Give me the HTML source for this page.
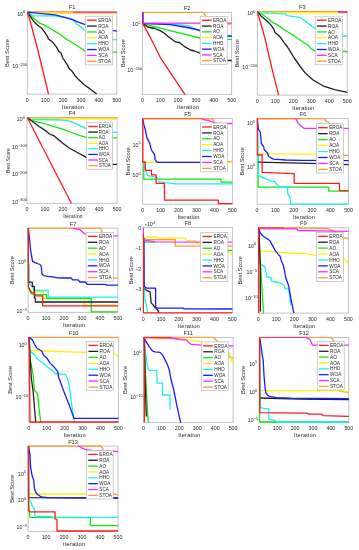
<!DOCTYPE html>
<html><head><meta charset="utf-8"><style>
html,body{margin:0;padding:0;background:#fff;width:359px;height:550px;overflow:hidden}
svg{display:block;will-change:transform}
text{font-family:"Liberation Sans",sans-serif;fill:#262626}
.t{font-size:5.3px}
.s{font-size:4px}
.ti{font-size:5.7px;fill:#262626}
.l{font-size:4.7px}
.lb{font-size:5.75px}
.it{letter-spacing:0.15px}
</style></head><body>
<svg width="359" height="550" viewBox="0 0 359 550" xmlns="http://www.w3.org/2000/svg">
<rect width="359" height="550" fill="#fff"/>
<clipPath id="cF1"><rect x="26.6" y="11.1" width="90.9" height="83.79999999999998"/></clipPath>
<rect x="27.3" y="11.9" width="89.50" height="82.20" fill="none" stroke="#b0b0b0" stroke-width="0.75"/>
<text x="27.30" y="101.60" class="t" text-anchor="middle">0</text>
<text x="45.20" y="101.60" class="t" text-anchor="middle">100</text>
<text x="63.10" y="101.60" class="t" text-anchor="middle">200</text>
<text x="81.00" y="101.60" class="t" text-anchor="middle">300</text>
<text x="98.90" y="101.60" class="t" text-anchor="middle">400</text>
<text x="116.80" y="101.60" class="t" text-anchor="middle">500</text>
<text x="73.15" y="109.00" class="lb it" text-anchor="middle">Iteration</text>
<text transform="translate(8.90,53.00) rotate(-90)" class="lb" text-anchor="middle">Best Score</text>
<text x="72.05" y="9.30" class="ti" text-anchor="middle">F1</text>
<text x="17.15" y="15.50" class="t">10<tspan class="s" dy="-2.2">0</tspan></text>
<text x="12.25" y="68.10" class="t">10<tspan class="s" dy="-2.2">−200</tspan></text>
<g clip-path="url(#cF1)" fill="none" stroke-width="1.3" stroke-linejoin="round" stroke-linecap="butt">
<polyline points="27.40,11.90 116.80,11.90" stroke="#ff9a30"/>
<polyline points="27.40,12.30 44.50,13.00 60.00,13.40 116.80,13.60" stroke="#fff200"/>
<polyline points="27.40,12.10 34.30,18.70 39.60,23.10 44.50,25.10 50.30,28.50 54.20,30.90 60.00,34.30 67.70,40.00 77.40,45.80 85.20,51.20 112.50,52.20 116.80,52.20" stroke="#10e810"/>
<polyline points="27.40,12.10 33.80,15.80 55.00,15.80 69.60,18.30 73.50,20.20 75.50,23.20 79.40,25.60 84.20,30.00 86.00,31.00 112.40,39.70 116.80,39.70" stroke="#18f0f0"/>
<polyline points="27.40,12.10 31.80,18.70 34.70,22.60 38.60,26.00 41.60,28.00 44.50,31.90 47.40,36.30 48.40,38.90 52.30,41.80 56.20,46.70 59.10,51.60 60.80,52.70 62.80,58.00 66.70,63.90 69.40,68.90 71.80,70.80 74.70,75.20 78.60,79.60 84.50,85.00 89.40,88.40 96.70,94.10" stroke="#202020"/>
<polyline points="27.40,12.10 44.50,13.80 55.00,14.90 64.70,17.30 72.50,19.70 78.40,22.20 85.20,24.60 112.20,30.30 116.80,31.10" stroke="#1a1aff"/>
<polyline points="73.00,12.30 116.80,12.30" stroke="#ff28ff"/>
<polyline points="27.40,12.10 31.50,26.00 35.20,40.00 39.30,56.00 45.10,80.00 48.50,94.10" stroke="#ff1a1a"/>
</g>
<rect x="85.3" y="16.2" width="27.40" height="48.70" fill="#fff" stroke="#b0b0b0" stroke-width="0.6"/>
<line x1="87.10" x2="96.70" y1="20.20" y2="20.20" stroke="#ff1a1a" stroke-width="1.3"/>
<text x="98.20" y="21.85" class="l">EROA</text>
<line x1="87.10" x2="96.70" y1="26.07" y2="26.07" stroke="#202020" stroke-width="1.3"/>
<text x="98.20" y="27.72" class="l">ROA</text>
<line x1="87.10" x2="96.70" y1="31.94" y2="31.94" stroke="#10e810" stroke-width="1.3"/>
<text x="98.20" y="33.59" class="l">AO</text>
<line x1="87.10" x2="96.70" y1="37.81" y2="37.81" stroke="#fff200" stroke-width="1.3"/>
<text x="98.20" y="39.46" class="l">AOA</text>
<line x1="87.10" x2="96.70" y1="43.69" y2="43.69" stroke="#18f0f0" stroke-width="1.3"/>
<text x="98.20" y="45.34" class="l">HHO</text>
<line x1="87.10" x2="96.70" y1="49.56" y2="49.56" stroke="#1a1aff" stroke-width="1.3"/>
<text x="98.20" y="51.21" class="l">WOA</text>
<line x1="87.10" x2="96.70" y1="55.43" y2="55.43" stroke="#ff28ff" stroke-width="1.3"/>
<text x="98.20" y="57.08" class="l">SCA</text>
<line x1="87.10" x2="96.70" y1="61.30" y2="61.30" stroke="#ff9a30" stroke-width="1.3"/>
<text x="98.20" y="62.95" class="l">STOA</text>
<clipPath id="cF2"><rect x="141.70000000000002" y="11.5" width="90.69999999999999" height="83.6"/></clipPath>
<rect x="142.4" y="12.3" width="89.30" height="82.00" fill="none" stroke="#b0b0b0" stroke-width="0.75"/>
<text x="142.40" y="101.80" class="t" text-anchor="middle">0</text>
<text x="160.26" y="101.80" class="t" text-anchor="middle">100</text>
<text x="178.12" y="101.80" class="t" text-anchor="middle">200</text>
<text x="195.98" y="101.80" class="t" text-anchor="middle">300</text>
<text x="213.84" y="101.80" class="t" text-anchor="middle">400</text>
<text x="231.70" y="101.80" class="t" text-anchor="middle">500</text>
<text x="188.15" y="109.20" class="lb it" text-anchor="middle">Iteration</text>
<text transform="translate(124.60,53.30) rotate(-90)" class="lb" text-anchor="middle">Best Score</text>
<text x="187.05" y="9.70" class="ti" text-anchor="middle">F2</text>
<text x="132.25" y="26.10" class="t">10<tspan class="s" dy="-2.2">0</tspan></text>
<text x="127.35" y="71.80" class="t">10<tspan class="s" dy="-2.2">−200</tspan></text>
<g clip-path="url(#cF2)" fill="none" stroke-width="1.3" stroke-linejoin="round" stroke-linecap="butt">
<polyline points="142.60,12.30 203.40,12.30 205.40,15.80 210.00,20.00 227.30,24.10 231.70,24.10" stroke="#ff9a30"/>
<polyline points="142.80,23.60 231.70,23.90" stroke="#fff200"/>
<polyline points="142.80,23.60 170.00,30.60 200.20,38.00 227.30,39.40 231.70,39.40" stroke="#10e810"/>
<polyline points="142.80,23.40 170.00,24.30 184.60,25.10 190.00,26.50 200.20,31.40 227.30,36.30 231.70,36.30" stroke="#18f0f0"/>
<polyline points="142.80,23.60 147.80,27.00 154.60,28.50 159.50,30.40 164.40,33.30 169.20,37.20 173.90,40.70 176.30,42.20 179.30,42.50 184.60,46.60 190.50,50.00 194.40,51.00 200.20,53.10 227.30,60.50 231.70,60.50" stroke="#202020"/>
<polyline points="142.70,12.30 142.80,23.40 170.00,24.60 184.60,27.00 194.40,29.00 200.20,30.40 227.30,36.00 231.70,36.00" stroke="#1a1aff"/>
<polyline points="142.70,12.30 142.80,23.10 231.70,23.10" stroke="#ff28ff"/>
<polyline points="142.70,12.30 142.80,23.60 147.20,31.60 151.60,40.00 160.20,57.30 172.70,76.10 184.90,94.30" stroke="#ff1a1a"/>
<polyline points="142.70,12.30 142.80,22.00" stroke="#6a2cff"/>
</g>
<rect x="200.2" y="16.3" width="27.00" height="48.00" fill="#fff" stroke="#b0b0b0" stroke-width="0.6"/>
<line x1="202.00" x2="211.60" y1="20.30" y2="20.30" stroke="#ff1a1a" stroke-width="1.3"/>
<text x="213.10" y="21.95" class="l">EROA</text>
<line x1="202.00" x2="211.60" y1="26.07" y2="26.07" stroke="#202020" stroke-width="1.3"/>
<text x="213.10" y="27.72" class="l">ROA</text>
<line x1="202.00" x2="211.60" y1="31.84" y2="31.84" stroke="#10e810" stroke-width="1.3"/>
<text x="213.10" y="33.49" class="l">AO</text>
<line x1="202.00" x2="211.60" y1="37.61" y2="37.61" stroke="#fff200" stroke-width="1.3"/>
<text x="213.10" y="39.26" class="l">AOA</text>
<line x1="202.00" x2="211.60" y1="43.39" y2="43.39" stroke="#18f0f0" stroke-width="1.3"/>
<text x="213.10" y="45.04" class="l">HHO</text>
<line x1="202.00" x2="211.60" y1="49.16" y2="49.16" stroke="#1a1aff" stroke-width="1.3"/>
<text x="213.10" y="50.81" class="l">WOA</text>
<line x1="202.00" x2="211.60" y1="54.93" y2="54.93" stroke="#ff28ff" stroke-width="1.3"/>
<text x="213.10" y="56.58" class="l">SCA</text>
<line x1="202.00" x2="211.60" y1="60.70" y2="60.70" stroke="#ff9a30" stroke-width="1.3"/>
<text x="213.10" y="62.35" class="l">STOA</text>
<clipPath id="cF3"><rect x="256.6" y="10.899999999999999" width="91.29999999999998" height="84.99999999999999"/></clipPath>
<rect x="257.3" y="11.7" width="89.90" height="83.40" fill="none" stroke="#b0b0b0" stroke-width="0.75"/>
<text x="257.30" y="102.60" class="t" text-anchor="middle">0</text>
<text x="275.28" y="102.60" class="t" text-anchor="middle">100</text>
<text x="293.26" y="102.60" class="t" text-anchor="middle">200</text>
<text x="311.24" y="102.60" class="t" text-anchor="middle">300</text>
<text x="329.22" y="102.60" class="t" text-anchor="middle">400</text>
<text x="347.20" y="102.60" class="t" text-anchor="middle">500</text>
<text x="303.35" y="110.00" class="lb it" text-anchor="middle">Iteration</text>
<text transform="translate(239.00,53.40) rotate(-90)" class="lb" text-anchor="middle">Best Score</text>
<text x="302.25" y="9.10" class="ti" text-anchor="middle">F3</text>
<text x="247.15" y="15.40" class="t">10<tspan class="s" dy="-2.2">0</tspan></text>
<text x="242.25" y="68.80" class="t">10<tspan class="s" dy="-2.2">−200</tspan></text>
<g clip-path="url(#cF3)" fill="none" stroke-width="1.3" stroke-linejoin="round" stroke-linecap="butt">
<polyline points="257.40,11.70 347.20,11.70" stroke="#ff9a30"/>
<polyline points="257.40,12.40 290.00,12.95 347.20,13.10" stroke="#fff200"/>
<polyline points="257.40,11.70 262.80,14.80 269.60,19.70 272.50,22.60 276.40,24.10 283.30,29.00 289.90,33.30 293.80,35.30 296.70,37.70 302.50,41.80 308.40,45.30 309.90,47.70 314.20,50.60 320.00,51.50 347.20,51.50" stroke="#10e810"/>
<polyline points="257.40,11.70 260.80,12.90 285.20,13.80 287.20,15.60 299.60,17.30 302.50,19.20 308.40,23.60 314.20,28.00 318.00,31.00 342.60,36.00 347.20,36.00" stroke="#18f0f0"/>
<polyline points="257.40,11.70 261.80,16.80 266.70,20.70 270.60,24.60 273.50,28.50 275.00,32.40 278.40,35.30 280.30,37.20 284.20,42.80 287.50,47.00 290.80,52.40 294.20,58.00 299.50,65.50 305.30,73.10 313.10,80.00 322.90,85.80 334.60,89.70 346.30,92.20 347.20,92.30" stroke="#202020"/>
<polyline points="338.00,11.90 347.20,11.90" stroke="#1a1aff"/>
<polyline points="340.00,12.00 347.20,12.00" stroke="#ff28ff"/>
<polyline points="257.40,11.70 264.70,37.20 271.10,65.20 278.60,95.10" stroke="#ff1a1a"/>
</g>
<rect x="315.2" y="16.2" width="27.30" height="48.60" fill="#fff" stroke="#b0b0b0" stroke-width="0.6"/>
<line x1="317.00" x2="326.60" y1="20.20" y2="20.20" stroke="#ff1a1a" stroke-width="1.3"/>
<text x="328.10" y="21.85" class="l">EROA</text>
<line x1="317.00" x2="326.60" y1="26.06" y2="26.06" stroke="#202020" stroke-width="1.3"/>
<text x="328.10" y="27.71" class="l">ROA</text>
<line x1="317.00" x2="326.60" y1="31.91" y2="31.91" stroke="#10e810" stroke-width="1.3"/>
<text x="328.10" y="33.56" class="l">AO</text>
<line x1="317.00" x2="326.60" y1="37.77" y2="37.77" stroke="#fff200" stroke-width="1.3"/>
<text x="328.10" y="39.42" class="l">AOA</text>
<line x1="317.00" x2="326.60" y1="43.63" y2="43.63" stroke="#18f0f0" stroke-width="1.3"/>
<text x="328.10" y="45.28" class="l">HHO</text>
<line x1="317.00" x2="326.60" y1="49.49" y2="49.49" stroke="#1a1aff" stroke-width="1.3"/>
<text x="328.10" y="51.14" class="l">WOA</text>
<line x1="317.00" x2="326.60" y1="55.34" y2="55.34" stroke="#ff28ff" stroke-width="1.3"/>
<text x="328.10" y="56.99" class="l">SCA</text>
<line x1="317.00" x2="326.60" y1="61.20" y2="61.20" stroke="#ff9a30" stroke-width="1.3"/>
<text x="328.10" y="62.85" class="l">STOA</text>
<clipPath id="cF4"><rect x="26.3" y="117.0" width="91.5" height="87.10000000000001"/></clipPath>
<rect x="27.0" y="117.8" width="90.10" height="85.50" fill="none" stroke="#b0b0b0" stroke-width="0.75"/>
<text x="27.00" y="210.80" class="t" text-anchor="middle">0</text>
<text x="45.02" y="210.80" class="t" text-anchor="middle">100</text>
<text x="63.04" y="210.80" class="t" text-anchor="middle">200</text>
<text x="81.06" y="210.80" class="t" text-anchor="middle">300</text>
<text x="99.08" y="210.80" class="t" text-anchor="middle">400</text>
<text x="117.10" y="210.80" class="t" text-anchor="middle">500</text>
<text x="73.02" y="217.84" class="lb it" text-anchor="middle" style="font-size:5.06px">Iteration</text>
<text transform="translate(9.70,160.55) rotate(-90)" class="lb" text-anchor="middle" style="font-size:5.06px">Best Score</text>
<text x="72.05" y="115.20" class="ti" text-anchor="middle">F4</text>
<text x="16.85" y="121.10" class="t">10<tspan class="s" dy="-2.2">0</tspan></text>
<text x="11.95" y="149.20" class="t">10<tspan class="s" dy="-2.2">−100</tspan></text>
<text x="11.95" y="176.20" class="t">10<tspan class="s" dy="-2.2">−200</tspan></text>
<text x="11.95" y="203.60" class="t">10<tspan class="s" dy="-2.2">−300</tspan></text>
<g clip-path="url(#cF4)" fill="none" stroke-width="1.3" stroke-linejoin="round" stroke-linecap="butt">
<polyline points="27.40,117.80 117.10,117.80" stroke="#ff9a30"/>
<polyline points="27.40,118.90 117.10,119.10" stroke="#fff200"/>
<polyline points="27.40,117.80 34.70,121.30 44.50,123.70 52.30,126.20 60.00,128.30 62.80,129.10 71.60,132.50 79.40,135.40 86.20,137.40 112.50,137.80 117.10,137.80" stroke="#10e810"/>
<polyline points="27.40,117.80 30.80,119.40 60.00,120.00 66.70,120.30 72.50,122.30 79.40,125.20 86.20,128.60 112.50,132.40 117.10,132.40" stroke="#18f0f0"/>
<polyline points="27.40,117.80 32.80,121.80 39.60,126.70 45.50,130.60 49.40,134.00 54.20,135.90 58.10,139.30 62.80,143.30 69.60,148.20 77.40,152.50 86.20,157.40 112.50,164.30 117.10,164.30" stroke="#202020"/>
<polyline points="27.40,117.80 71.30,203.30" stroke="#ff1a1a"/>
</g>
<rect x="86.5" y="122.5" width="26.00" height="46.70" fill="#fff" stroke="#b0b0b0" stroke-width="0.6"/>
<line x1="88.30" x2="97.90" y1="126.50" y2="126.50" stroke="#ff1a1a" stroke-width="1.3"/>
<text x="98.75" y="128.07" class="l" style="font-size:4.46px">EROA</text>
<line x1="88.30" x2="97.90" y1="132.09" y2="132.09" stroke="#202020" stroke-width="1.3"/>
<text x="98.75" y="133.65" class="l" style="font-size:4.46px">ROA</text>
<line x1="88.30" x2="97.90" y1="137.67" y2="137.67" stroke="#10e810" stroke-width="1.3"/>
<text x="98.75" y="139.24" class="l" style="font-size:4.46px">AO</text>
<line x1="88.30" x2="97.90" y1="143.26" y2="143.26" stroke="#fff200" stroke-width="1.3"/>
<text x="98.75" y="144.82" class="l" style="font-size:4.46px">AOA</text>
<line x1="88.30" x2="97.90" y1="148.84" y2="148.84" stroke="#18f0f0" stroke-width="1.3"/>
<text x="98.75" y="150.41" class="l" style="font-size:4.46px">HHO</text>
<line x1="88.30" x2="97.90" y1="154.43" y2="154.43" stroke="#1a1aff" stroke-width="1.3"/>
<text x="98.75" y="156.00" class="l" style="font-size:4.46px">WOA</text>
<line x1="88.30" x2="97.90" y1="160.01" y2="160.01" stroke="#ff28ff" stroke-width="1.3"/>
<text x="98.75" y="161.58" class="l" style="font-size:4.46px">SCA</text>
<line x1="88.30" x2="97.90" y1="165.60" y2="165.60" stroke="#ff9a30" stroke-width="1.3"/>
<text x="98.75" y="167.17" class="l" style="font-size:4.46px">STOA</text>
<clipPath id="cF5"><rect x="142.0" y="117.7" width="91.00000000000003" height="87.29999999999998"/></clipPath>
<rect x="142.7" y="118.5" width="89.60" height="85.70" fill="none" stroke="#b0b0b0" stroke-width="0.75"/>
<text x="142.70" y="211.70" class="t" text-anchor="middle">0</text>
<text x="160.62" y="211.70" class="t" text-anchor="middle">100</text>
<text x="178.54" y="211.70" class="t" text-anchor="middle">200</text>
<text x="196.46" y="211.70" class="t" text-anchor="middle">300</text>
<text x="214.38" y="211.70" class="t" text-anchor="middle">400</text>
<text x="232.30" y="211.70" class="t" text-anchor="middle">500</text>
<text x="188.60" y="219.10" class="lb it" text-anchor="middle">Iteration</text>
<text transform="translate(130.00,161.35) rotate(-90)" class="lb" text-anchor="middle">Best Score</text>
<text x="187.50" y="115.90" class="ti" text-anchor="middle">F5</text>
<text x="132.55" y="146.60" class="t">10<tspan class="s" dy="-2.2">5</tspan></text>
<text x="132.55" y="177.20" class="t">10<tspan class="s" dy="-2.2">0</tspan></text>
<g clip-path="url(#cF5)" fill="none" stroke-width="1.3" stroke-linejoin="round" stroke-linecap="butt">
<polyline points="142.80,118.50 211.80,118.50 214.90,122.40 218.00,140.00 222.00,160.00 227.60,161.90 232.30,161.90" stroke="#ff9a30"/>
<polyline points="142.80,162.30 232.30,162.30" stroke="#fff200"/>
<polyline points="143.80,162.00 143.80,179.20 221.00,179.20 221.00,182.20 232.30,182.20" stroke="#10e810"/>
<polyline points="143.50,162.00 146.10,171.80 147.70,175.70 156.80,177.20 159.10,181.80 172.20,183.30 175.20,183.90 232.30,183.90" stroke="#18f0f0"/>
<polyline points="142.80,118.50 143.90,124.70 145.80,131.60 146.80,137.40 149.70,143.30 151.20,149.50 152.70,151.80 154.60,154.70 155.10,159.60 157.10,162.30 227.60,162.40" stroke="#1a1aff"/>
<polyline points="201.80,118.50 203.40,119.70 208.00,120.40 212.60,122.00 216.00,123.50 232.30,123.50" stroke="#ff28ff"/>
<polyline points="142.80,118.50 142.80,162.00 145.40,162.00 145.40,170.30 151.50,170.30 151.50,174.90 156.10,174.90 156.10,183.30 164.50,183.30 164.50,200.20 218.40,200.20 218.40,203.60 232.30,203.60" stroke="#ff1a1a"/>
<polyline points="142.80,118.50 202.10,118.50" stroke="#ff6a2c"/>
</g>
<rect x="200.3" y="123.0" width="27.30" height="48.90" fill="#fff" stroke="#b0b0b0" stroke-width="0.6"/>
<line x1="202.10" x2="211.70" y1="127.00" y2="127.00" stroke="#ff1a1a" stroke-width="1.3"/>
<text x="213.20" y="128.65" class="l">EROA</text>
<line x1="202.10" x2="211.70" y1="132.90" y2="132.90" stroke="#202020" stroke-width="1.3"/>
<text x="213.20" y="134.55" class="l">ROA</text>
<line x1="202.10" x2="211.70" y1="138.80" y2="138.80" stroke="#10e810" stroke-width="1.3"/>
<text x="213.20" y="140.45" class="l">AO</text>
<line x1="202.10" x2="211.70" y1="144.70" y2="144.70" stroke="#fff200" stroke-width="1.3"/>
<text x="213.20" y="146.35" class="l">AOA</text>
<line x1="202.10" x2="211.70" y1="150.60" y2="150.60" stroke="#18f0f0" stroke-width="1.3"/>
<text x="213.20" y="152.25" class="l">HHO</text>
<line x1="202.10" x2="211.70" y1="156.50" y2="156.50" stroke="#1a1aff" stroke-width="1.3"/>
<text x="213.20" y="158.15" class="l">WOA</text>
<line x1="202.10" x2="211.70" y1="162.40" y2="162.40" stroke="#ff28ff" stroke-width="1.3"/>
<text x="213.20" y="164.05" class="l">SCA</text>
<line x1="202.10" x2="211.70" y1="168.30" y2="168.30" stroke="#ff9a30" stroke-width="1.3"/>
<text x="213.20" y="169.95" class="l">STOA</text>
<clipPath id="cF6"><rect x="256.40000000000003" y="117.8" width="92.9" height="87.19999999999999"/></clipPath>
<rect x="257.1" y="118.6" width="91.50" height="85.60" fill="none" stroke="#b0b0b0" stroke-width="0.75"/>
<text x="257.10" y="211.70" class="t" text-anchor="middle">0</text>
<text x="275.40" y="211.70" class="t" text-anchor="middle">100</text>
<text x="293.70" y="211.70" class="t" text-anchor="middle">200</text>
<text x="312.00" y="211.70" class="t" text-anchor="middle">300</text>
<text x="330.30" y="211.70" class="t" text-anchor="middle">400</text>
<text x="348.60" y="211.70" class="t" text-anchor="middle">500</text>
<text x="303.95" y="219.10" class="lb it" text-anchor="middle">Iteration</text>
<text transform="translate(243.60,161.40) rotate(-90)" class="lb" text-anchor="middle">Best Score</text>
<text x="302.85" y="116.00" class="ti" text-anchor="middle">F6</text>
<text x="246.95" y="125.30" class="t">10<tspan class="s" dy="-2.2">5</tspan></text>
<text x="246.95" y="168.60" class="t">10<tspan class="s" dy="-2.2">0</tspan></text>
<g clip-path="url(#cF6)" fill="none" stroke-width="1.3" stroke-linejoin="round" stroke-linecap="butt">
<polyline points="257.30,118.60 324.30,118.60 325.90,121.20 328.40,122.00 335.00,140.00 343.60,155.40 348.60,155.40" stroke="#ff9a30"/>
<polyline points="257.30,153.90 316.30,154.20" stroke="#fff200"/>
<polyline points="258.10,155.00 258.10,187.10 328.80,187.10 328.80,191.20 348.60,191.20" stroke="#10e810"/>
<polyline points="257.80,131.60 258.60,175.60 262.20,177.40 268.60,180.10 274.90,181.90 277.60,185.60 279.50,187.00 287.60,187.00 287.60,193.70 290.30,198.20 290.50,204.20 348.60,204.20" stroke="#18f0f0"/>
<polyline points="258.20,162.20 310.00,163.40 348.60,164.60" stroke="#202020"/>
<polyline points="257.30,118.60 258.40,129.10 260.40,132.50 261.30,143.30 263.80,147.20 264.20,149.60 267.30,152.70 268.80,156.50 273.40,159.10 285.60,160.00 300.90,160.30 348.60,160.60" stroke="#1a1aff"/>
<polyline points="295.80,118.60 298.30,123.70 302.50,127.00 304.20,128.40 348.60,128.40" stroke="#ff28ff"/>
<polyline points="257.30,118.60 257.30,155.00 262.10,155.00 262.10,172.30 294.20,173.60 294.20,183.30 339.50,183.30 339.50,190.60 348.60,190.60" stroke="#ff1a1a"/>
<polyline points="257.30,118.60 296.00,118.60" stroke="#ff7a38"/>
</g>
<rect x="316.3" y="123.7" width="27.30" height="49.30" fill="#fff" stroke="#b0b0b0" stroke-width="0.6"/>
<line x1="318.10" x2="327.70" y1="127.70" y2="127.70" stroke="#ff1a1a" stroke-width="1.3"/>
<text x="329.20" y="129.35" class="l">EROA</text>
<line x1="318.10" x2="327.70" y1="133.66" y2="133.66" stroke="#202020" stroke-width="1.3"/>
<text x="329.20" y="135.31" class="l">ROA</text>
<line x1="318.10" x2="327.70" y1="139.61" y2="139.61" stroke="#10e810" stroke-width="1.3"/>
<text x="329.20" y="141.26" class="l">AO</text>
<line x1="318.10" x2="327.70" y1="145.57" y2="145.57" stroke="#fff200" stroke-width="1.3"/>
<text x="329.20" y="147.22" class="l">AOA</text>
<line x1="318.10" x2="327.70" y1="151.53" y2="151.53" stroke="#18f0f0" stroke-width="1.3"/>
<text x="329.20" y="153.18" class="l">HHO</text>
<line x1="318.10" x2="327.70" y1="157.49" y2="157.49" stroke="#1a1aff" stroke-width="1.3"/>
<text x="329.20" y="159.14" class="l">WOA</text>
<line x1="318.10" x2="327.70" y1="163.44" y2="163.44" stroke="#ff28ff" stroke-width="1.3"/>
<text x="329.20" y="165.09" class="l">SCA</text>
<line x1="318.10" x2="327.70" y1="169.40" y2="169.40" stroke="#ff9a30" stroke-width="1.3"/>
<text x="329.20" y="171.05" class="l">STOA</text>
<clipPath id="cF7"><rect x="27.400000000000002" y="227.29999999999998" width="91.20000000000002" height="85.80000000000001"/></clipPath>
<rect x="28.1" y="228.1" width="89.80" height="84.20" fill="none" stroke="#b0b0b0" stroke-width="0.75"/>
<text x="28.10" y="319.80" class="t" text-anchor="middle">0</text>
<text x="46.06" y="319.80" class="t" text-anchor="middle">100</text>
<text x="64.02" y="319.80" class="t" text-anchor="middle">200</text>
<text x="81.98" y="319.80" class="t" text-anchor="middle">300</text>
<text x="99.94" y="319.80" class="t" text-anchor="middle">400</text>
<text x="117.90" y="319.80" class="t" text-anchor="middle">500</text>
<text x="74.10" y="327.20" class="lb it" text-anchor="middle">Iteration</text>
<text transform="translate(14.30,270.20) rotate(-90)" class="lb" text-anchor="middle">Best Score</text>
<text x="73.00" y="225.50" class="ti" text-anchor="middle">F7</text>
<text x="17.95" y="263.70" class="t">10<tspan class="s" dy="-2.2">0</tspan></text>
<text x="16.50" y="312.70" class="t">10<tspan class="s" dy="-2.2">−5</tspan></text>
<g clip-path="url(#cF7)" fill="none" stroke-width="1.3" stroke-linejoin="round" stroke-linecap="butt">
<polyline points="28.30,228.10 100.20,228.10 101.80,231.20 105.00,250.00 110.00,276.00 113.30,278.20 117.90,278.20" stroke="#ff9a30"/>
<polyline points="28.30,228.10 28.30,287.00 28.80,289.10 30.20,291.20 33.00,291.90 43.40,291.90 43.40,298.50 84.40,298.50 84.40,305.30 117.90,305.30" stroke="#fff200"/>
<polyline points="28.30,228.10 28.30,287.50 29.80,290.50 31.60,294.00 34.70,294.70 46.50,294.70 46.50,298.30 91.30,298.30 91.30,311.80 117.90,311.80" stroke="#10e810"/>
<polyline points="28.30,228.10 28.40,262.00 29.30,266.00 29.30,282.90 30.20,285.00 31.60,286.40 33.00,287.70 33.70,290.50 48.20,290.50 48.20,297.10 117.90,297.10" stroke="#18f0f0"/>
<polyline points="28.30,228.10 28.40,280.50 29.10,282.20 32.30,282.20 32.30,286.40 34.40,286.40 34.40,297.50 35.40,298.90 35.40,302.00 117.90,302.00" stroke="#202020"/>
<polyline points="28.30,228.10 29.40,237.50 30.60,250.00 32.50,261.30 35.00,262.60 40.00,264.50 41.30,266.40 41.90,273.80 43.80,275.60 47.60,276.30 52.60,276.90 57.60,277.90 62.60,278.00 70.90,278.00 72.70,279.80 78.10,279.80 79.90,282.00 85.40,282.00 87.20,284.30 105.30,284.30 107.10,285.20 117.90,285.20" stroke="#1a1aff"/>
<polyline points="73.40,228.10 75.00,228.90 80.30,229.70 82.60,232.00 84.90,234.00 90.00,235.80 117.90,235.80" stroke="#ff28ff"/>
<polyline points="28.30,228.10 28.40,286.40 30.20,290.50 31.60,292.30 34.40,293.00 35.10,295.80 42.70,295.80 42.70,305.90 117.90,305.90" stroke="#ff1a1a"/>
</g>
<rect x="86.0" y="232.4" width="27.30" height="48.80" fill="#fff" stroke="#b0b0b0" stroke-width="0.6"/>
<line x1="87.80" x2="97.40" y1="236.40" y2="236.40" stroke="#ff1a1a" stroke-width="1.3"/>
<text x="98.90" y="238.05" class="l">EROA</text>
<line x1="87.80" x2="97.40" y1="242.29" y2="242.29" stroke="#202020" stroke-width="1.3"/>
<text x="98.90" y="243.94" class="l">ROA</text>
<line x1="87.80" x2="97.40" y1="248.17" y2="248.17" stroke="#10e810" stroke-width="1.3"/>
<text x="98.90" y="249.82" class="l">AO</text>
<line x1="87.80" x2="97.40" y1="254.06" y2="254.06" stroke="#fff200" stroke-width="1.3"/>
<text x="98.90" y="255.71" class="l">AOA</text>
<line x1="87.80" x2="97.40" y1="259.94" y2="259.94" stroke="#18f0f0" stroke-width="1.3"/>
<text x="98.90" y="261.59" class="l">HHO</text>
<line x1="87.80" x2="97.40" y1="265.83" y2="265.83" stroke="#1a1aff" stroke-width="1.3"/>
<text x="98.90" y="267.48" class="l">WOA</text>
<line x1="87.80" x2="97.40" y1="271.71" y2="271.71" stroke="#ff28ff" stroke-width="1.3"/>
<text x="98.90" y="273.36" class="l">SCA</text>
<line x1="87.80" x2="97.40" y1="277.60" y2="277.60" stroke="#ff9a30" stroke-width="1.3"/>
<text x="98.90" y="279.25" class="l">STOA</text>
<clipPath id="cF8"><rect x="142.60000000000002" y="226.7" width="90.4" height="87.1"/></clipPath>
<rect x="143.3" y="227.5" width="89.00" height="85.50" fill="none" stroke="#b0b0b0" stroke-width="0.75"/>
<text x="143.30" y="320.50" class="t" text-anchor="middle">0</text>
<text x="161.10" y="320.50" class="t" text-anchor="middle">100</text>
<text x="178.90" y="320.50" class="t" text-anchor="middle">200</text>
<text x="196.70" y="320.50" class="t" text-anchor="middle">300</text>
<text x="214.50" y="320.50" class="t" text-anchor="middle">400</text>
<text x="232.30" y="320.50" class="t" text-anchor="middle">500</text>
<text x="188.90" y="327.90" class="lb it" text-anchor="middle">Iteration</text>
<text transform="translate(133.40,270.25) rotate(-90)" class="lb" text-anchor="middle">Best Score</text>
<text x="187.80" y="224.90" class="ti" text-anchor="middle">F8</text>
<text x="141.20" y="230.10" class="t" text-anchor="end">0</text>
<text x="141.20" y="250.30" class="t" text-anchor="end">−1</text>
<text x="141.20" y="270.70" class="t" text-anchor="end">−2</text>
<text x="141.20" y="291.00" class="t" text-anchor="end">−3</text>
<text x="141.20" y="311.40" class="t" text-anchor="end">−4</text>
<text x="144.40" y="225.70" class="t"><tspan style="font-size:4.3px">×</tspan>10<tspan class="s" dy="-2.1">4</tspan></text>
<g clip-path="url(#cF8)" fill="none" stroke-width="1.3" stroke-linejoin="round" stroke-linecap="butt">
<polyline points="143.50,238.60 145.60,239.60 175.20,239.60 175.20,246.20 232.30,246.10" stroke="#ff9a30"/>
<polyline points="143.50,236.80 156.40,236.80 158.10,238.10 185.40,238.10 186.90,240.70 195.30,240.70 196.80,243.40 210.00,246.00 228.10,251.50 232.30,254.80" stroke="#fff200"/>
<polyline points="143.50,242.10 155.00,242.10" stroke="#10e810"/>
<polyline points="205.00,250.40 232.30,250.40" stroke="#10e810"/>
<polyline points="143.90,285.60 145.00,299.50 146.70,307.30 147.60,312.30" stroke="#18f0f0"/>
<polyline points="144.50,288.40 146.70,290.60 150.00,291.70 150.60,297.30 151.10,302.90 152.80,304.50 154.50,306.80 156.70,309.00 158.40,310.70 158.70,312.90" stroke="#202020"/>
<polyline points="144.00,238.00 144.20,284.50 144.50,286.70 146.70,288.10 155.60,288.10 155.60,307.30 157.80,308.20 183.50,308.20 184.20,308.90 232.30,309.00" stroke="#1a1aff"/>
<polyline points="143.30,227.50 143.30,234.70 143.60,240.00 155.00,241.90 232.30,242.10" stroke="#ff28ff"/>
<polyline points="143.30,234.00 143.30,312.90 232.30,312.90" stroke="#ff1a1a"/>
</g>
<rect x="200.7" y="232.5" width="27.20" height="48.80" fill="#fff" stroke="#b0b0b0" stroke-width="0.6"/>
<line x1="202.50" x2="212.10" y1="236.50" y2="236.50" stroke="#ff1a1a" stroke-width="1.3"/>
<text x="213.60" y="238.15" class="l">EROA</text>
<line x1="202.50" x2="212.10" y1="242.39" y2="242.39" stroke="#202020" stroke-width="1.3"/>
<text x="213.60" y="244.04" class="l">ROA</text>
<line x1="202.50" x2="212.10" y1="248.27" y2="248.27" stroke="#10e810" stroke-width="1.3"/>
<text x="213.60" y="249.92" class="l">AO</text>
<line x1="202.50" x2="212.10" y1="254.16" y2="254.16" stroke="#fff200" stroke-width="1.3"/>
<text x="213.60" y="255.81" class="l">AOA</text>
<line x1="202.50" x2="212.10" y1="260.04" y2="260.04" stroke="#18f0f0" stroke-width="1.3"/>
<text x="213.60" y="261.69" class="l">HHO</text>
<line x1="202.50" x2="212.10" y1="265.93" y2="265.93" stroke="#1a1aff" stroke-width="1.3"/>
<text x="213.60" y="267.58" class="l">WOA</text>
<line x1="202.50" x2="212.10" y1="271.81" y2="271.81" stroke="#ff28ff" stroke-width="1.3"/>
<text x="213.60" y="273.46" class="l">SCA</text>
<line x1="202.50" x2="212.10" y1="277.70" y2="277.70" stroke="#ff9a30" stroke-width="1.3"/>
<text x="213.60" y="279.35" class="l">STOA</text>
<clipPath id="cF9"><rect x="257.5" y="227.0" width="91.6" height="86.9"/></clipPath>
<rect x="258.2" y="227.8" width="90.20" height="85.30" fill="none" stroke="#b0b0b0" stroke-width="0.75"/>
<text x="258.20" y="320.60" class="t" text-anchor="middle">0</text>
<text x="276.24" y="320.60" class="t" text-anchor="middle">100</text>
<text x="294.28" y="320.60" class="t" text-anchor="middle">200</text>
<text x="312.32" y="320.60" class="t" text-anchor="middle">300</text>
<text x="330.36" y="320.60" class="t" text-anchor="middle">400</text>
<text x="348.40" y="320.60" class="t" text-anchor="middle">500</text>
<text x="304.40" y="328.00" class="lb it" text-anchor="middle">Iteration</text>
<text transform="translate(242.10,270.45) rotate(-90)" class="lb" text-anchor="middle">Best Score</text>
<text x="303.30" y="225.20" class="ti" text-anchor="middle">F9</text>
<text x="248.05" y="247.50" class="t">10<tspan class="s" dy="-2.2">0</tspan></text>
<text x="246.60" y="273.70" class="t">10<tspan class="s" dy="-2.2">−5</tspan></text>
<text x="244.95" y="300.30" class="t">10<tspan class="s" dy="-2.2">−10</tspan></text>
<g clip-path="url(#cF9)" fill="none" stroke-width="1.3" stroke-linejoin="round" stroke-linecap="butt">
<polyline points="258.60,227.80 295.00,227.80 326.70,228.30 333.10,230.70 342.60,237.10 347.40,238.70 348.40,238.90" stroke="#ff9a30"/>
<polyline points="258.60,250.90 280.10,252.30 300.00,253.60 307.70,253.70 315.60,255.30 343.90,258.60 348.40,264.00" stroke="#fff200"/>
<polyline points="258.60,227.80 260.60,265.00 263.50,313.20" stroke="#10e810"/>
<polyline points="258.90,227.80 259.60,245.00 259.80,263.80 262.50,265.10 265.00,266.90 266.90,276.90 270.70,277.50 271.90,281.30 278.80,282.50 281.90,283.80 284.40,285.70 285.10,288.80 288.80,288.80 290.70,305.10" stroke="#18f0f0"/>
<polyline points="258.60,227.80 260.30,265.00 260.40,311.40" stroke="#202020"/>
<polyline points="258.60,227.80 260.00,232.50 262.50,235.70 266.30,238.20 270.00,240.70 271.90,244.40 275.00,250.10 278.20,254.40 280.10,256.30 281.30,260.70 283.20,265.10 284.40,270.00 285.70,277.50 288.80,286.30 290.70,297.60 293.80,313.20" stroke="#1a1aff"/>
<polyline points="258.60,228.50 296.70,228.80 298.00,230.50 333.10,231.20 348.40,231.40" stroke="#ff28ff"/>
<polyline points="258.60,227.80 258.80,313.10" stroke="#ff1a1a"/>
<polyline points="258.60,227.80 284.00,227.80" stroke="#ff4a30"/>
</g>
<rect x="316.4" y="232.3" width="27.00" height="49.00" fill="#fff" stroke="#b0b0b0" stroke-width="0.6"/>
<line x1="318.20" x2="327.80" y1="236.30" y2="236.30" stroke="#ff1a1a" stroke-width="1.3"/>
<text x="329.30" y="237.95" class="l">EROA</text>
<line x1="318.20" x2="327.80" y1="242.21" y2="242.21" stroke="#202020" stroke-width="1.3"/>
<text x="329.30" y="243.86" class="l">ROA</text>
<line x1="318.20" x2="327.80" y1="248.13" y2="248.13" stroke="#10e810" stroke-width="1.3"/>
<text x="329.30" y="249.78" class="l">AO</text>
<line x1="318.20" x2="327.80" y1="254.04" y2="254.04" stroke="#fff200" stroke-width="1.3"/>
<text x="329.30" y="255.69" class="l">AOA</text>
<line x1="318.20" x2="327.80" y1="259.96" y2="259.96" stroke="#18f0f0" stroke-width="1.3"/>
<text x="329.30" y="261.61" class="l">HHO</text>
<line x1="318.20" x2="327.80" y1="265.87" y2="265.87" stroke="#1a1aff" stroke-width="1.3"/>
<text x="329.30" y="267.52" class="l">WOA</text>
<line x1="318.20" x2="327.80" y1="271.79" y2="271.79" stroke="#ff28ff" stroke-width="1.3"/>
<text x="329.30" y="273.44" class="l">SCA</text>
<line x1="318.20" x2="327.80" y1="277.70" y2="277.70" stroke="#ff9a30" stroke-width="1.3"/>
<text x="329.30" y="279.35" class="l">STOA</text>
<clipPath id="cF10"><rect x="28.1" y="336.5" width="91.00000000000001" height="86.49999999999997"/></clipPath>
<rect x="28.8" y="337.3" width="89.60" height="84.90" fill="none" stroke="#b0b0b0" stroke-width="0.75"/>
<text x="28.80" y="429.70" class="t" text-anchor="middle">0</text>
<text x="46.72" y="429.70" class="t" text-anchor="middle">100</text>
<text x="64.64" y="429.70" class="t" text-anchor="middle">200</text>
<text x="82.56" y="429.70" class="t" text-anchor="middle">300</text>
<text x="100.48" y="429.70" class="t" text-anchor="middle">400</text>
<text x="118.40" y="429.70" class="t" text-anchor="middle">500</text>
<text x="74.70" y="437.10" class="lb it" text-anchor="middle">Iteration</text>
<text transform="translate(12.30,379.75) rotate(-90)" class="lb" text-anchor="middle">Best Score</text>
<text x="73.60" y="334.70" class="ti" text-anchor="middle">F10</text>
<text x="18.65" y="347.10" class="t">10<tspan class="s" dy="-2.2">0</tspan></text>
<text x="15.55" y="398.70" class="t">10<tspan class="s" dy="-2.2">−10</tspan></text>
<g clip-path="url(#cF10)" fill="none" stroke-width="1.3" stroke-linejoin="round" stroke-linecap="butt">
<polyline points="28.80,337.30 118.40,337.30" stroke="#ff9a30"/>
<polyline points="28.90,350.50 70.00,351.80 85.80,352.30 113.50,353.50 115.70,354.50 118.40,357.20" stroke="#fff200"/>
<polyline points="29.20,337.30 30.00,358.10 33.10,375.00 34.40,390.00 37.50,393.80 38.20,400.10 40.70,422.00" stroke="#10e810"/>
<polyline points="28.80,337.30 29.50,350.50 34.40,354.90 37.50,359.30 43.80,363.70 48.80,368.10 52.60,370.60 55.00,373.50 65.00,374.40 67.70,379.00 69.50,387.10 71.30,401.60 73.10,414.30 74.30,422.20" stroke="#18f0f0"/>
<polyline points="29.20,337.30 30.00,355.60 31.30,378.00 33.10,391.30 35.70,422.00" stroke="#202020"/>
<polyline points="28.80,337.30 32.50,339.90 34.40,344.30 36.90,348.00 41.90,351.20 43.80,355.60 46.90,358.10 50.10,363.10 53.80,366.80 55.00,368.10 57.70,371.70 58.60,377.10 63.20,389.80 68.60,403.40 72.20,413.40 74.00,418.30 118.40,418.30" stroke="#1a1aff"/>
<polyline points="29.10,337.30 30.00,422.00 118.40,422.00" stroke="#ff1a1a"/>
</g>
<rect x="86.7" y="341.4" width="26.80" height="49.30" fill="#fff" stroke="#b0b0b0" stroke-width="0.6"/>
<line x1="88.50" x2="98.10" y1="345.40" y2="345.40" stroke="#ff1a1a" stroke-width="1.3"/>
<text x="99.60" y="347.05" class="l">EROA</text>
<line x1="88.50" x2="98.10" y1="351.36" y2="351.36" stroke="#202020" stroke-width="1.3"/>
<text x="99.60" y="353.01" class="l">ROA</text>
<line x1="88.50" x2="98.10" y1="357.31" y2="357.31" stroke="#10e810" stroke-width="1.3"/>
<text x="99.60" y="358.96" class="l">AO</text>
<line x1="88.50" x2="98.10" y1="363.27" y2="363.27" stroke="#fff200" stroke-width="1.3"/>
<text x="99.60" y="364.92" class="l">AOA</text>
<line x1="88.50" x2="98.10" y1="369.23" y2="369.23" stroke="#18f0f0" stroke-width="1.3"/>
<text x="99.60" y="370.88" class="l">HHO</text>
<line x1="88.50" x2="98.10" y1="375.19" y2="375.19" stroke="#1a1aff" stroke-width="1.3"/>
<text x="99.60" y="376.84" class="l">WOA</text>
<line x1="88.50" x2="98.10" y1="381.14" y2="381.14" stroke="#ff28ff" stroke-width="1.3"/>
<text x="99.60" y="382.79" class="l">SCA</text>
<line x1="88.50" x2="98.10" y1="387.10" y2="387.10" stroke="#ff9a30" stroke-width="1.3"/>
<text x="99.60" y="388.75" class="l">STOA</text>
<clipPath id="cF11"><rect x="142.70000000000002" y="336.59999999999997" width="91.1" height="86.50000000000003"/></clipPath>
<rect x="143.4" y="337.4" width="89.70" height="84.90" fill="none" stroke="#b0b0b0" stroke-width="0.75"/>
<text x="143.40" y="429.80" class="t" text-anchor="middle">0</text>
<text x="161.34" y="429.80" class="t" text-anchor="middle">100</text>
<text x="179.28" y="429.80" class="t" text-anchor="middle">200</text>
<text x="197.22" y="429.80" class="t" text-anchor="middle">300</text>
<text x="215.16" y="429.80" class="t" text-anchor="middle">400</text>
<text x="233.10" y="429.80" class="t" text-anchor="middle">500</text>
<text x="189.35" y="437.20" class="lb it" text-anchor="middle">Iteration</text>
<text transform="translate(127.10,379.85) rotate(-90)" class="lb" text-anchor="middle">Best Score</text>
<text x="188.25" y="334.80" class="ti" text-anchor="middle">F11</text>
<text x="133.25" y="355.30" class="t">10<tspan class="s" dy="-2.2">0</tspan></text>
<text x="130.15" y="398.90" class="t">10<tspan class="s" dy="-2.2">−10</tspan></text>
<g clip-path="url(#cF11)" fill="none" stroke-width="1.3" stroke-linejoin="round" stroke-linecap="butt">
<polyline points="143.60,337.20 212.50,337.20 214.90,338.70 217.30,341.10 225.00,352.00 228.40,356.20 233.10,358.60" stroke="#ff9a30"/>
<polyline points="152.50,338.60 170.10,338.60 180.00,338.70 192.70,340.30 199.00,341.10 210.00,345.00 228.40,351.00 233.10,364.00" stroke="#fff200"/>
<polyline points="144.40,337.40 145.60,375.00 148.10,422.30" stroke="#10e810"/>
<polyline points="143.60,337.40 144.40,345.50 146.30,358.10 148.10,369.30 149.40,370.40 156.80,370.40 157.00,383.10 162.40,383.10 162.50,395.00 170.10,395.00 170.10,409.50" stroke="#18f0f0"/>
<polyline points="144.40,337.40 145.00,375.00 146.30,416.40" stroke="#202020"/>
<polyline points="143.60,337.40 146.30,341.80 149.40,346.80 152.50,351.20 155.00,351.80 160.10,352.40 162.60,354.90 165.10,359.90 167.60,365.00 169.40,370.60 170.70,378.00 173.80,390.00 177.00,406.30 180.70,422.60" stroke="#1a1aff"/>
<polyline points="143.60,337.60 170.10,338.00 180.00,339.50 186.30,339.80 187.90,341.90 191.10,344.30 200.60,345.10 233.10,345.90" stroke="#ff28ff"/>
<polyline points="144.20,337.40 144.40,422.30" stroke="#ff1a1a"/>
<polyline points="143.60,337.30 171.20,337.30" stroke="#ff2424"/>
</g>
<rect x="201.4" y="341.9" width="27.00" height="48.80" fill="#fff" stroke="#b0b0b0" stroke-width="0.6"/>
<line x1="203.20" x2="212.80" y1="345.90" y2="345.90" stroke="#ff1a1a" stroke-width="1.3"/>
<text x="214.30" y="347.55" class="l">EROA</text>
<line x1="203.20" x2="212.80" y1="351.79" y2="351.79" stroke="#202020" stroke-width="1.3"/>
<text x="214.30" y="353.44" class="l">ROA</text>
<line x1="203.20" x2="212.80" y1="357.67" y2="357.67" stroke="#10e810" stroke-width="1.3"/>
<text x="214.30" y="359.32" class="l">AO</text>
<line x1="203.20" x2="212.80" y1="363.56" y2="363.56" stroke="#fff200" stroke-width="1.3"/>
<text x="214.30" y="365.21" class="l">AOA</text>
<line x1="203.20" x2="212.80" y1="369.44" y2="369.44" stroke="#18f0f0" stroke-width="1.3"/>
<text x="214.30" y="371.09" class="l">HHO</text>
<line x1="203.20" x2="212.80" y1="375.33" y2="375.33" stroke="#1a1aff" stroke-width="1.3"/>
<text x="214.30" y="376.98" class="l">WOA</text>
<line x1="203.20" x2="212.80" y1="381.21" y2="381.21" stroke="#ff28ff" stroke-width="1.3"/>
<text x="214.30" y="382.86" class="l">SCA</text>
<line x1="203.20" x2="212.80" y1="387.10" y2="387.10" stroke="#ff9a30" stroke-width="1.3"/>
<text x="214.30" y="388.75" class="l">STOA</text>
<clipPath id="cF12"><rect x="258.6" y="336.8" width="90.9" height="86.19999999999996"/></clipPath>
<rect x="259.3" y="337.6" width="89.50" height="84.60" fill="none" stroke="#b0b0b0" stroke-width="0.75"/>
<text x="259.30" y="429.70" class="t" text-anchor="middle">0</text>
<text x="277.20" y="429.70" class="t" text-anchor="middle">100</text>
<text x="295.10" y="429.70" class="t" text-anchor="middle">200</text>
<text x="313.00" y="429.70" class="t" text-anchor="middle">300</text>
<text x="330.90" y="429.70" class="t" text-anchor="middle">400</text>
<text x="348.80" y="429.70" class="t" text-anchor="middle">500</text>
<text x="305.15" y="437.10" class="lb it" text-anchor="middle">Iteration</text>
<text transform="translate(245.10,379.90) rotate(-90)" class="lb" text-anchor="middle">Best Score</text>
<text x="304.05" y="335.00" class="ti" text-anchor="middle">F12</text>
<text x="249.15" y="365.50" class="t">10<tspan class="s" dy="-2.2">5</tspan></text>
<text x="249.15" y="393.80" class="t">10<tspan class="s" dy="-2.2">0</tspan></text>
<text x="247.70" y="422.30" class="t">10<tspan class="s" dy="-2.2">−5</tspan></text>
<g clip-path="url(#cF12)" fill="none" stroke-width="1.3" stroke-linejoin="round" stroke-linecap="butt">
<polyline points="259.50,337.30 329.90,337.30 332.30,338.70 333.90,341.10 340.00,391.00 348.80,392.60" stroke="#ff9a30"/>
<polyline points="260.00,390.70 340.60,390.70 348.80,392.00" stroke="#fff200"/>
<polyline points="259.50,337.60 259.50,422.00 348.80,422.00" stroke="#10e810"/>
<polyline points="259.60,337.60 260.60,407.60 262.50,408.20 268.80,408.80 268.80,418.90 273.80,420.10 277.60,422.00 348.80,422.00" stroke="#18f0f0"/>
<polyline points="260.40,398.00 300.00,399.10 348.80,399.60" stroke="#202020"/>
<polyline points="259.50,337.60 261.00,345.50 262.20,354.70 263.20,360.20 264.10,376.50 265.00,387.30 265.90,392.80 267.50,395.20 269.50,396.40 276.70,397.60 291.20,398.20 320.00,398.50 348.80,398.70" stroke="#1a1aff"/>
<polyline points="259.50,337.40 305.60,337.40 310.10,339.50 311.70,343.50 312.50,345.10 348.80,345.10" stroke="#ff28ff"/>
<polyline points="259.60,337.60 259.80,412.60 300.00,413.20 307.20,413.20 308.70,414.20 321.70,414.20 323.20,415.70 348.80,416.40" stroke="#ff1a1a"/>
<polyline points="259.50,337.40 305.60,337.40" stroke="#ff3a7c"/>
</g>
<rect x="317.2" y="341.4" width="27.00" height="48.60" fill="#fff" stroke="#b0b0b0" stroke-width="0.6"/>
<line x1="319.00" x2="328.60" y1="345.40" y2="345.40" stroke="#ff1a1a" stroke-width="1.3"/>
<text x="330.10" y="347.05" class="l">EROA</text>
<line x1="319.00" x2="328.60" y1="351.26" y2="351.26" stroke="#202020" stroke-width="1.3"/>
<text x="330.10" y="352.91" class="l">ROA</text>
<line x1="319.00" x2="328.60" y1="357.11" y2="357.11" stroke="#10e810" stroke-width="1.3"/>
<text x="330.10" y="358.76" class="l">AO</text>
<line x1="319.00" x2="328.60" y1="362.97" y2="362.97" stroke="#fff200" stroke-width="1.3"/>
<text x="330.10" y="364.62" class="l">AOA</text>
<line x1="319.00" x2="328.60" y1="368.83" y2="368.83" stroke="#18f0f0" stroke-width="1.3"/>
<text x="330.10" y="370.48" class="l">HHO</text>
<line x1="319.00" x2="328.60" y1="374.69" y2="374.69" stroke="#1a1aff" stroke-width="1.3"/>
<text x="330.10" y="376.34" class="l">WOA</text>
<line x1="319.00" x2="328.60" y1="380.54" y2="380.54" stroke="#ff28ff" stroke-width="1.3"/>
<text x="330.10" y="382.19" class="l">SCA</text>
<line x1="319.00" x2="328.60" y1="386.40" y2="386.40" stroke="#ff9a30" stroke-width="1.3"/>
<text x="330.10" y="388.05" class="l">STOA</text>
<clipPath id="cF13"><rect x="27.400000000000002" y="445.3" width="91.30000000000001" height="86.79999999999993"/></clipPath>
<rect x="28.1" y="446.1" width="89.90" height="85.20" fill="none" stroke="#b0b0b0" stroke-width="0.75"/>
<text x="28.10" y="538.80" class="t" text-anchor="middle">0</text>
<text x="46.08" y="538.80" class="t" text-anchor="middle">100</text>
<text x="64.06" y="538.80" class="t" text-anchor="middle">200</text>
<text x="82.04" y="538.80" class="t" text-anchor="middle">300</text>
<text x="100.02" y="538.80" class="t" text-anchor="middle">400</text>
<text x="118.00" y="538.80" class="t" text-anchor="middle">500</text>
<text x="74.15" y="546.20" class="lb it" text-anchor="middle">Iteration</text>
<text transform="translate(14.30,488.70) rotate(-90)" class="lb" text-anchor="middle">Best Score</text>
<text x="73.05" y="443.50" class="ti" text-anchor="middle">F13</text>
<text x="17.95" y="475.50" class="t">10<tspan class="s" dy="-2.2">5</tspan></text>
<text x="17.95" y="502.30" class="t">10<tspan class="s" dy="-2.2">0</tspan></text>
<text x="16.50" y="529.40" class="t">10<tspan class="s" dy="-2.2">−5</tspan></text>
<g clip-path="url(#cF13)" fill="none" stroke-width="1.3" stroke-linejoin="round" stroke-linecap="butt">
<polyline points="28.30,446.00 100.70,446.00 102.30,447.50 103.10,449.90 108.00,480.00 113.40,493.60 118.00,495.10" stroke="#ff9a30"/>
<polyline points="28.80,494.00 86.40,494.00" stroke="#fff200"/>
<polyline points="28.50,446.10 28.80,505.00 30.00,517.40 90.40,517.60 90.40,525.60 118.00,525.60" stroke="#10e810"/>
<polyline points="28.50,446.10 28.80,499.50 30.60,501.40 32.50,506.40 34.40,508.90 35.00,515.80 36.30,516.50 50.10,516.50 52.60,517.20 118.00,517.40" stroke="#18f0f0"/>
<polyline points="28.50,446.10 28.50,497.60 118.00,498.00" stroke="#202020"/>
<polyline points="28.30,446.10 30.00,454.50 30.60,467.10 31.90,474.60 33.80,480.80 34.40,488.30 35.70,492.00 37.50,494.50 41.30,497.00 47.60,497.60 118.00,498.00" stroke="#1a1aff"/>
<polyline points="77.70,446.10 80.10,446.70 82.50,448.30 87.20,449.90 92.00,450.40 118.00,451.50" stroke="#ff28ff"/>
<polyline points="28.30,446.10 28.50,510.80 30.00,511.80 55.10,511.80 55.10,519.00 57.00,519.60 57.00,531.00 118.00,531.00" stroke="#ff1a1a"/>
</g>
<rect x="86.4" y="450.4" width="26.70" height="48.60" fill="#fff" stroke="#b0b0b0" stroke-width="0.6"/>
<line x1="88.20" x2="97.80" y1="454.40" y2="454.40" stroke="#ff1a1a" stroke-width="1.3"/>
<text x="99.30" y="456.05" class="l">EROA</text>
<line x1="88.20" x2="97.80" y1="460.26" y2="460.26" stroke="#202020" stroke-width="1.3"/>
<text x="99.30" y="461.91" class="l">ROA</text>
<line x1="88.20" x2="97.80" y1="466.11" y2="466.11" stroke="#10e810" stroke-width="1.3"/>
<text x="99.30" y="467.76" class="l">AO</text>
<line x1="88.20" x2="97.80" y1="471.97" y2="471.97" stroke="#fff200" stroke-width="1.3"/>
<text x="99.30" y="473.62" class="l">AOA</text>
<line x1="88.20" x2="97.80" y1="477.83" y2="477.83" stroke="#18f0f0" stroke-width="1.3"/>
<text x="99.30" y="479.48" class="l">HHO</text>
<line x1="88.20" x2="97.80" y1="483.69" y2="483.69" stroke="#1a1aff" stroke-width="1.3"/>
<text x="99.30" y="485.34" class="l">WOA</text>
<line x1="88.20" x2="97.80" y1="489.54" y2="489.54" stroke="#ff28ff" stroke-width="1.3"/>
<text x="99.30" y="491.19" class="l">SCA</text>
<line x1="88.20" x2="97.80" y1="495.40" y2="495.40" stroke="#ff9a30" stroke-width="1.3"/>
<text x="99.30" y="497.05" class="l">STOA</text>
</svg>
</body></html>
